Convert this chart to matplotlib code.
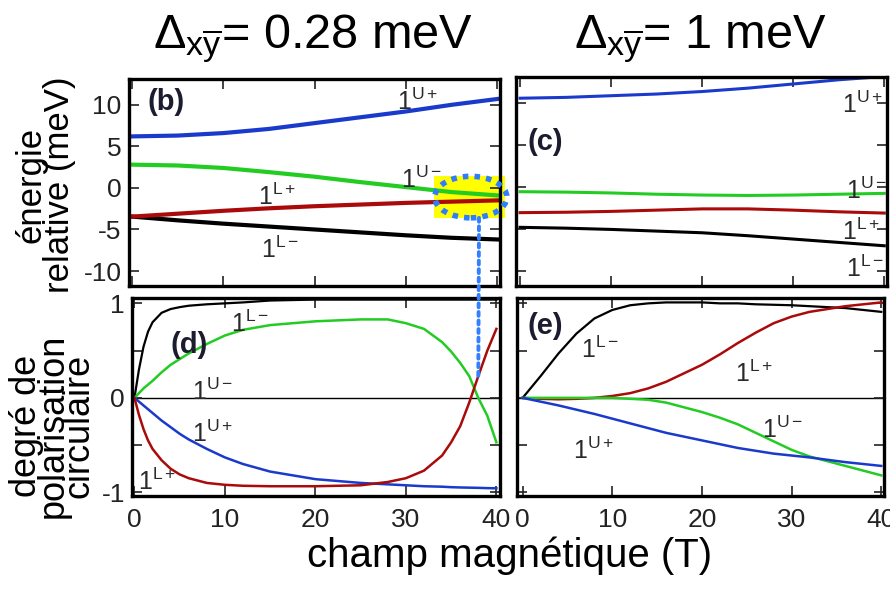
import matplotlib
matplotlib.use("Agg")
import matplotlib.pyplot as plt
from matplotlib.patches import Ellipse, Rectangle, ConnectionPatch

plt.rcParams['font.family'] = ['Liberation Sans', 'DejaVu Sans']
plt.rcParams['mathtext.fontset'] = 'custom'
plt.rcParams['mathtext.rm'] = 'Liberation Sans'
plt.rcParams['mathtext.it'] = 'Liberation Sans'
plt.rcParams['mathtext.bf'] = 'Liberation Sans:bold'

# --- data ---
B5 = [0, 5, 10, 15, 20, 25, 30, 35, 40]

# (b) energies, Delta = 0.28 meV
b_Up = [6.2, 6.3, 6.6, 7.1, 7.8, 8.5, 9.2, 10.0, 10.7]
b_Um = [2.8, 2.7, 2.4, 1.9, 1.35, 0.7, 0.1, -0.5, -0.9]
b_Lp = [-3.45, -3.1, -2.75, -2.45, -2.2, -2.0, -1.8, -1.65, -1.5]
b_Lm = [-3.45, -3.9, -4.3, -4.65, -5.0, -5.35, -5.7, -6.0, -6.2]

# (c) energies, Delta = 1 meV
c_Up = [10.6, 10.7, 10.9, 11.1, 11.4, 11.8, 12.3, 12.8, 13.2]
c_Um = [-0.55, -0.6, -0.7, -0.85, -0.95, -1.0, -0.95, -0.85, -0.75]
c_Lp = [-3.05, -3.0, -2.9, -2.75, -2.6, -2.6, -2.75, -2.95, -3.1]
c_Lm = [-4.8, -4.9, -5.05, -5.25, -5.45, -5.8, -6.2, -6.6, -7.0]

# (d) circular polarisation, Delta = 0.28 meV
d_B = [0, 0.5, 1, 1.5, 2, 3, 4, 5, 6, 8, 10, 12, 15, 20, 25, 28, 30, 32, 34, 35, 36, 37, 38, 39, 40]
d_Lm = [0, 0.3, 0.54, 0.7, 0.8, 0.9, 0.94, 0.96, 0.975, 0.99, 1.0, 1.01, 1.03, 1.04, 1.04,
        1.04, 1.04, 1.04, 1.04, 1.04, 1.04, 1.04, 1.04, 1.04, 1.04]
d_Um = [0, 0.05, 0.1, 0.14, 0.18, 0.27, 0.35, 0.41, 0.47, 0.57, 0.66, 0.72, 0.77, 0.81, 0.83,
        0.83, 0.79, 0.73, 0.59, 0.49, 0.37, 0.23, 0.0, -0.19, -0.47]
d_Lp = [0, -0.18, -0.33, -0.45, -0.54, -0.66, -0.75, -0.81, -0.85, -0.9, -0.92, -0.93, -0.935,
        -0.935, -0.925, -0.89, -0.85, -0.77, -0.61, -0.47, -0.3, -0.05, 0.23, 0.5, 0.73]
d_Up = [0, -0.04, -0.08, -0.12, -0.16, -0.24, -0.31, -0.38, -0.44, -0.54, -0.63, -0.7, -0.78,
        -0.86, -0.9, -0.915, -0.925, -0.935, -0.94, -0.945, -0.948, -0.95, -0.952, -0.955, -0.957]

# (e) circular polarisation, Delta = 1 meV
e_B = [0, 2, 4, 6, 8, 10, 12, 14, 16, 18, 20, 22, 24, 26, 28, 30, 32, 34, 36, 38, 40]
e_Lm = [0, 0.23, 0.47, 0.68, 0.84, 0.93, 0.98, 1.0, 1.01, 1.01, 1.01, 1.0, 1.0, 0.99, 0.985,
        0.98, 0.97, 0.96, 0.95, 0.93, 0.91]
e_Lp = [0, -0.01, -0.015, -0.01, 0.0, 0.02, 0.05, 0.1, 0.17, 0.26, 0.35, 0.46, 0.58, 0.69,
        0.79, 0.86, 0.91, 0.94, 0.97, 0.99, 1.01]
e_Um = [0, 0, 0, 0, 0, 0, -0.01, -0.02, -0.05, -0.1, -0.15, -0.21, -0.28, -0.37, -0.46,
        -0.55, -0.62, -0.67, -0.72, -0.77, -0.82]
e_Up = [0, -0.04, -0.08, -0.125, -0.17, -0.22, -0.27, -0.32, -0.37, -0.41, -0.45, -0.49,
        -0.53, -0.56, -0.59, -0.61, -0.63, -0.655, -0.68, -0.7, -0.72]

blue = '#1a3acc'
green = '#22cc22'
red = '#aa0a0a'
black = '#000000'
lab_col = '#2a2a2a'

fig = plt.figure(figsize=(8.9, 5.93), dpi=100)
ax_b = fig.add_axes([0.1444, 0.5177, 0.4174, 0.349])
ax_c = fig.add_axes([0.5803, 0.5177, 0.4163, 0.352])
ax_d = fig.add_axes([0.148, 0.1641, 0.4138, 0.3339])
ax_e = fig.add_axes([0.5812, 0.1641, 0.412, 0.3339])

for ax in (ax_b, ax_c, ax_d, ax_e):
    for s in ax.spines.values():
        s.set_linewidth(2.4)
    ax.tick_params(direction='in', length=7, width=1.2, top=True, right=True,
                   labelsize=19, colors='#222222')
    ax.set_xticks([0, 10, 20, 30, 40])

# energy panels
for ax in (ax_b, ax_c):
    ax.set_xlim(-0.4, 40.3)
    ax.set_ylim(-11.8, 13.1)
    ax.set_yticks([-10, -5, 0, 5, 10])
    ax.set_xticklabels([])
ax_b.set_yticklabels(['-10', '-5', '0', '5', '10'])
ax_b.tick_params(axis='y', pad=5)
ax_c.set_yticklabels([])

ax_b.add_patch(Rectangle((33.1, -3.6), 7.7, 5.05, facecolor='#ffff00', edgecolor='none',
                         zorder=1, clip_on=False))
ax_b.plot(B5, b_Up, color=blue, lw=3.0, zorder=2)
ax_b.plot(B5, b_Um, color=green, lw=3.0, zorder=2)
ax_b.plot(B5, b_Lm, color=black, lw=3.0, zorder=2)
ax_b.plot(B5, b_Lp, color=red, lw=3.0, zorder=2)
ax_b.add_patch(Ellipse((37.1, -1.1), 7.9, 5.0, facecolor='none', edgecolor='#2f7dff',
                       lw=4.0, linestyle=(0, (1, 1.1)), zorder=3, clip_on=False))

ax_c.plot(B5, c_Up, color=blue, lw=2.2)
ax_c.plot(B5, c_Um, color=green, lw=2.2)
ax_c.plot(B5, c_Lp, color=red, lw=2.2)
ax_c.plot(B5, c_Lm, color=black, lw=2.2)

# polarisation panels
for ax in (ax_d, ax_e):
    ax.set_ylim(-1.035, 1.06)
    ax.set_yticks([-1, -0.5, 0, 0.5, 1])
    ax.axhline(0, color='black', lw=1.0, zorder=1)
    ax.set_xticklabels(['0', '10', '20', '30', '40'])
    ax.tick_params(axis='x', pad=9)
ax_d.set_xlim(-0.3, 40.4)
ax_e.set_xlim(-0.6, 40.3)
ax_d.set_yticklabels(['-1', '', '0', '', '1'])
ax_d.tick_params(axis='y', pad=5)
ax_e.set_yticklabels([])

ax_d.plot(d_B, d_Lm, color=black, lw=1.6)
ax_d.plot(d_B, d_Um, color=green, lw=1.8)
ax_d.plot(d_B, d_Up, color=blue, lw=1.8)
ax_d.plot(d_B, d_Lp, color=red, lw=1.8)

ax_e.plot(e_B, e_Lm, color=black, lw=1.6)
ax_e.plot(e_B, e_Lp, color=red, lw=1.8)
ax_e.plot(e_B, e_Um, color=green, lw=1.8)
ax_e.plot(e_B, e_Up, color=blue, lw=1.8)

# dotted link between (b) and (d)
con = ConnectionPatch(xyA=(38.0, -3.6), coordsA=ax_b.transData,
                      xyB=(38.0, 0.21), coordsB=ax_d.transData,
                      color='#3380ff', lw=2.8, linestyle=(0, (1, 1.2)), zorder=5)
fig.add_artist(con)

# curve labels
def lab(ax, x, y, s):
    ax.text(x, y, s, fontsize=18, color=lab_col, ha='left', va='baseline')

lab(ax_b, 29.0, 9.4, r'$1^{\mathrm{U+}}$')
lab(ax_b, 29.5, 0.0, r'$1^{\mathrm{U-}}$')
lab(ax_b, 13.8, -2.05, r'$1^{\mathrm{L+}}$')
lab(ax_b, 14.1, -8.4, r'$1^{\mathrm{L-}}$')

lab(ax_c, 35.4, 8.8, r'$1^{\mathrm{U+}}$')
lab(ax_c, 35.8, -1.45, r'$1^{\mathrm{U-}}$')
lab(ax_c, 35.4, -6.3, r'$1^{\mathrm{L+}}$')
lab(ax_c, 35.8, -10.7, r'$1^{\mathrm{L-}}$')

lab(ax_d, 10.7, 0.70, r'$1^{\mathrm{L-}}$')
lab(ax_d, 6.4, -0.02, r'$1^{\mathrm{U-}}$')
lab(ax_d, 6.4, -0.47, r'$1^{\mathrm{U+}}$')
lab(ax_d, 0.4, -0.98, r'$1^{\mathrm{L+}}$')

lab(ax_e, 6.5, 0.42, r'$1^{\mathrm{L-}}$')
lab(ax_e, 23.7, 0.17, r'$1^{\mathrm{L+}}$')
lab(ax_e, 26.7, -0.42, r'$1^{\mathrm{U-}}$')
lab(ax_e, 5.6, -0.65, r'$1^{\mathrm{U+}}$')

# panel letters
for ax, x, y, s in ((ax_b, 1.7, 9.4, '(b)'), (ax_c, 0.8, 4.4, '(c)'),
                    (ax_d, 4.0, 0.47, '(d)'), (ax_e, 0.55, 0.68, '(e)')):
    ax.text(x, y, s, fontsize=21, fontweight='bold', color='#1c1c30',
            ha='left', va='baseline')

# titles and axis labels
fig.text(0.352, 0.919, r'$\Delta_{x\overline{y}}$= 0.28 meV', fontsize=35,
         ha='center', va='baseline')
fig.text(0.787, 0.919, r'$\Delta_{x\overline{y}}$= 1 meV', fontsize=35,
         ha='center', va='baseline')
fig.text(0.051, 0.688, 'énergie\nrelative (meV)', fontsize=25, rotation=90,
         ha='center', va='center', multialignment='center', linespacing=0.8)
fig.text(0.0596, 0.282, 'degré de\npolarisation\ncirculaire', fontsize=26, rotation=90,
         ha='center', va='center', multialignment='center', linespacing=0.68)
fig.text(0.572, 0.044, 'champ magnétique (T)', fontsize=29, ha='center', va='baseline')

fig.savefig('out.png', dpi=100)
